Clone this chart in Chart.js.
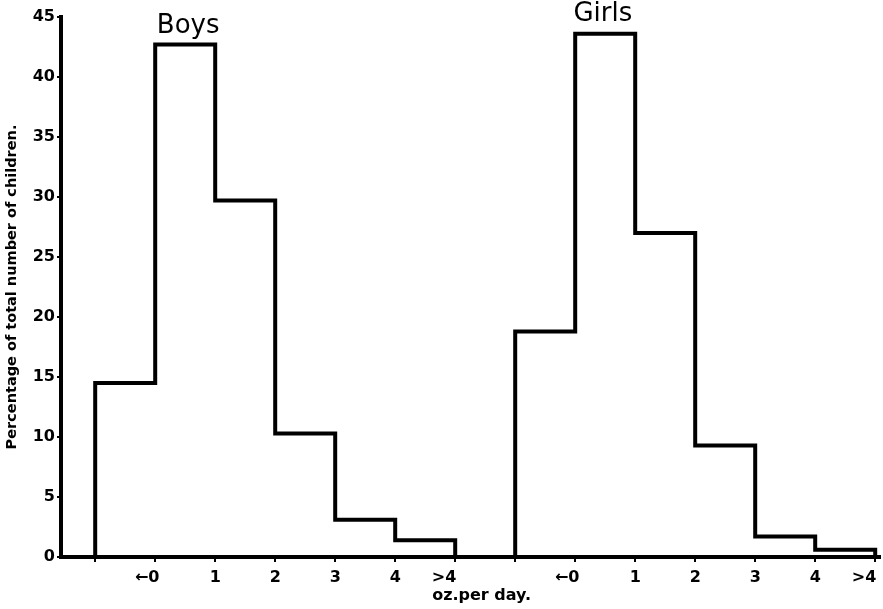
<!DOCTYPE html>
<html>
<head>
<meta charset="utf-8">
<script src="https://cdn.jsdelivr.net/npm/chart.js@4"></script>
<style>
  html, body { margin: 0; padding: 0; background: #fff; }
  #wrap { width: 883px; height: 609px; }
</style>
</head>
<body>
<div id="wrap"><canvas id="milkChart"></canvas></div>
<script>
// percentage of children per intake bin (oz. per day)
const binLabels = ['\u21900', '1', '2', '3', '4', '>4'];
const boysPct = [14.5, 42.7, 29.7, 10.3, 3.1, 1.4];
const girlsPct = [18.8, 43.6, 27.0, 9.3, 1.7, 0.6];
const yTicks = [0, 5, 10, 15, 20, 25, 30, 35, 40, 45];

// girls histogram starts one empty bin after the boys one
const girlsStart = boysPct.length + 1;

// x tick labels: left edge has no label, then each bin's upper edge
const xTickLabels = [''].concat(binLabels, [''], binLabels);

function stepPoints(values, start) {
    const pts = [{ x: start, y: 0 }];
    values.forEach((v, i) => pts.push({ x: start + i, y: v }));
    pts.push({ x: start + values.length, y: 0 });
    return pts;
}

// pad the arrow / ">" labels so the digit sits on its tick like the original
function tickText(label) {
    if (label.startsWith('\u2190')) return label + '\u2003';
    if (label.startsWith('>')) return label + '\u2007\u2007';
    return label;
}

const groupLabels = {
    id: 'groupLabels',
    afterDatasetsDraw(chart) {
        const { ctx, scales: { x, y } } = chart;
        ctx.save();
        ctx.fillStyle = '#000';
        ctx.font = '26px "DejaVu Sans"';
        ctx.textAlign = 'center';
        ctx.textBaseline = 'middle';
        ctx.fillText('Boys', x.getPixelForValue(1.55), y.getPixelForValue(44.2));
        ctx.fillText('Girls', x.getPixelForValue(girlsStart + 1.46), y.getPixelForValue(45.2));
        ctx.restore();
    }
};

const ctx = document.getElementById('milkChart').getContext('2d');
new Chart(ctx, {
    type: 'line',
    data: {
        datasets: [
            {
                label: 'Boys',
                data: stepPoints(boysPct, 0),
                stepped: 'before',
                borderColor: '#000',
                borderWidth: 4,
                borderJoinStyle: 'miter',
                pointRadius: 0,
                fill: false
            },
            {
                label: 'Girls',
                data: stepPoints(girlsPct, girlsStart),
                stepped: 'before',
                borderColor: '#000',
                borderWidth: 4,
                borderJoinStyle: 'miter',
                pointRadius: 0,
                fill: false
            }
        ]
    },
    options: {
        responsive: true,
        maintainAspectRatio: false,
        animation: false,
        layout: { padding: { top: 17, right: 3 } },
        plugins: {
            legend: { display: false },
            tooltip: { enabled: false }
        },
        scales: {
            x: {
                type: 'linear',
                min: -0.57,
                max: 13.08,
                afterBuildTicks: (scale) => {
                    scale.ticks = xTickLabels.map((_, i) => ({ value: i }));
                },
                afterFit: (scale) => {
                    scale.height = 52;
                    scale.paddingLeft = 0;
                    scale.paddingRight = 0;
                },
                border: { color: '#000', width: 4 },
                grid: { drawOnChartArea: false, drawTicks: true, tickLength: 5, color: '#000', lineWidth: 2 },
                ticks: {
                    autoSkip: false,
                    maxRotation: 0,
                    color: '#000',
                    padding: 6,
                    font: { family: 'DejaVu Sans', size: 16, weight: 'bold' },
                    callback: (value) => tickText(xTickLabels[value])
                },
                title: {
                    display: true,
                    text: '    oz.per day.',
                    color: '#000',
                    padding: { top: 0 },
                    font: { family: 'DejaVu Sans', size: 16, weight: 'bold' }
                }
            },
            y: {
                min: 0,
                max: 45,
                afterBuildTicks: (scale) => {
                    scale.ticks = yTicks.map(v => ({ value: v }));
                },
                afterFit: (scale) => { scale.width = 61; },
                border: { color: '#000', width: 4 },
                grid: { drawOnChartArea: false, drawTicks: true, tickLength: 4, color: '#000', lineWidth: 2 },
                ticks: {
                    color: '#000',
                    padding: 2,
                    font: { family: 'DejaVu Sans', size: 16, weight: 'bold' }
                },
                title: {
                    display: true,
                    text: 'Percentage of total number of children.',
                    color: '#000',
                    padding: { top: 4, bottom: 0 },
                    font: { family: 'DejaVu Sans', size: 14.5, weight: 'bold' }
                }
            }
        }
    },
    plugins: [groupLabels]
});
</script>
</body>
</html>
